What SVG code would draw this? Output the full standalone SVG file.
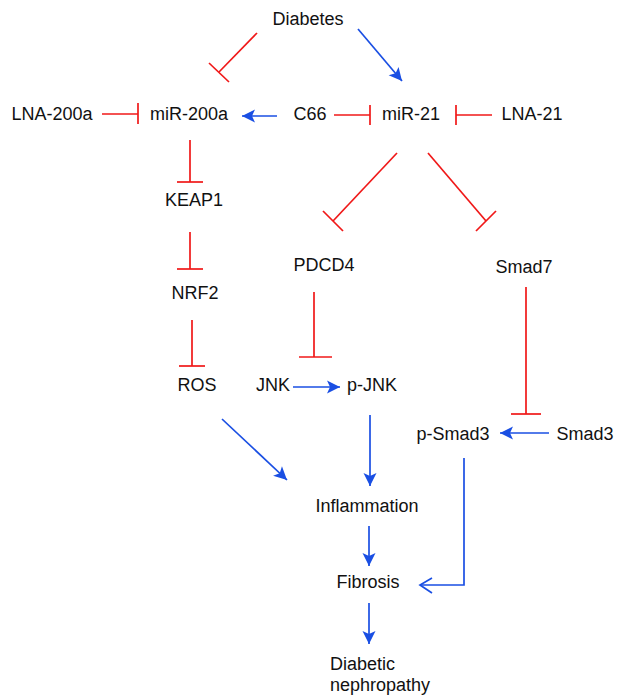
<svg xmlns="http://www.w3.org/2000/svg" width="617" height="697" viewBox="0 0 617 697">
<style>
text{font-family:"Liberation Sans",Arial,sans-serif;font-size:18px;fill:#111;text-anchor:middle}
.r{stroke:#f01818;stroke-width:1.7;fill:none}
.b{stroke:#1a4fe3;stroke-width:1.7;fill:none}
.ba{stroke:#1a4fe3;stroke-width:1.7;fill:none;marker-end:url(#arr)}
</style>
<defs>
<marker id="arr" markerUnits="userSpaceOnUse" viewBox="-15 -8 16 16" refX="0" refY="0" markerWidth="16" markerHeight="16" orient="auto">
<path d="M0,0 L-13,-6.5 L-10,0 L-13,6.5 Z" fill="#1a4fe3"/>
</marker>
</defs>
<g id="connectors">
<line class="r" x1="257" y1="33" x2="219" y2="72"/>
<line class="r" x1="209" y1="63" x2="229" y2="82"/>
<line class="ba" x1="358" y1="29" x2="402" y2="81"/>
<line class="r" x1="102" y1="114" x2="138" y2="114"/>
<line class="r" x1="138" y1="103" x2="138" y2="124"/>
<line class="ba" x1="277" y1="116" x2="242" y2="116"/>
<line class="r" x1="334" y1="115" x2="370" y2="115"/>
<line class="r" x1="370" y1="105" x2="370" y2="125"/>
<line class="r" x1="492" y1="115" x2="456" y2="115"/>
<line class="r" x1="456" y1="105" x2="456" y2="125"/>
<line class="r" x1="397" y1="153" x2="333" y2="221"/>
<line class="r" x1="323" y1="211" x2="343" y2="231"/>
<line class="r" x1="428" y1="153" x2="486" y2="221"/>
<line class="r" x1="476" y1="231" x2="496" y2="211"/>
<line class="r" x1="190" y1="140" x2="190" y2="182"/>
<line class="r" x1="177" y1="182" x2="203" y2="182"/>
<line class="r" x1="190" y1="232" x2="190" y2="269"/>
<line class="r" x1="177" y1="269" x2="203" y2="269"/>
<line class="r" x1="192" y1="320" x2="192" y2="366"/>
<line class="r" x1="179" y1="366" x2="205" y2="366"/>
<line class="r" x1="314" y1="292" x2="314" y2="357"/>
<line class="r" x1="299" y1="357" x2="332" y2="357"/>
<line class="r" x1="526" y1="287" x2="526" y2="414"/>
<line class="r" x1="511" y1="414" x2="541" y2="414"/>
<line class="ba" x1="293" y1="387" x2="340" y2="387"/>
<line class="ba" x1="549" y1="433" x2="500" y2="433"/>
<line class="ba" x1="222" y1="419" x2="287" y2="480"/>
<line class="ba" x1="370" y1="415" x2="370" y2="486"/>
<line class="ba" x1="369" y1="526" x2="369" y2="566"/>
<line class="ba" x1="369" y1="603" x2="369" y2="644"/>
<polyline class="b" points="464,458 464,585 420,585"/>
<polyline class="b" points="432,578 420,585 432,593"/>
</g>
<g id="n-diabetes"><text x="308" y="25">Diabetes</text></g>
<g id="n-lna200a"><text x="52" y="120">LNA-200a</text></g>
<g id="n-mir200a"><text x="189" y="120">miR-200a</text></g>
<g id="n-c66"><text x="310" y="120">C66</text></g>
<g id="n-mir21"><text x="411" y="120">miR-21</text></g>
<g id="n-lna21"><text x="532" y="120">LNA-21</text></g>
<g id="n-keap1"><text x="194" y="206">KEAP1</text></g>
<g id="n-nrf2"><text x="195" y="299">NRF2</text></g>
<g id="n-ros"><text x="197" y="391">ROS</text></g>
<g id="n-pdcd4"><text x="324" y="271">PDCD4</text></g>
<g id="n-smad7"><text x="524" y="273">Smad7</text></g>
<g id="n-jnk"><text x="273" y="391">JNK</text></g>
<g id="n-pjnk"><text x="372" y="391">p-JNK</text></g>
<g id="n-psmad3"><text x="453" y="440">p-Smad3</text></g>
<g id="n-smad3"><text x="585" y="440">Smad3</text></g>
<g id="n-inflammation"><text x="367" y="512">Inflammation</text></g>
<g id="n-fibrosis"><text x="368" y="588">Fibrosis</text></g>
<g id="n-dn"><text x="330" y="670" style="text-anchor:start">Diabetic</text><text x="330" y="691" style="text-anchor:start">nephropathy</text></g>
</svg>
